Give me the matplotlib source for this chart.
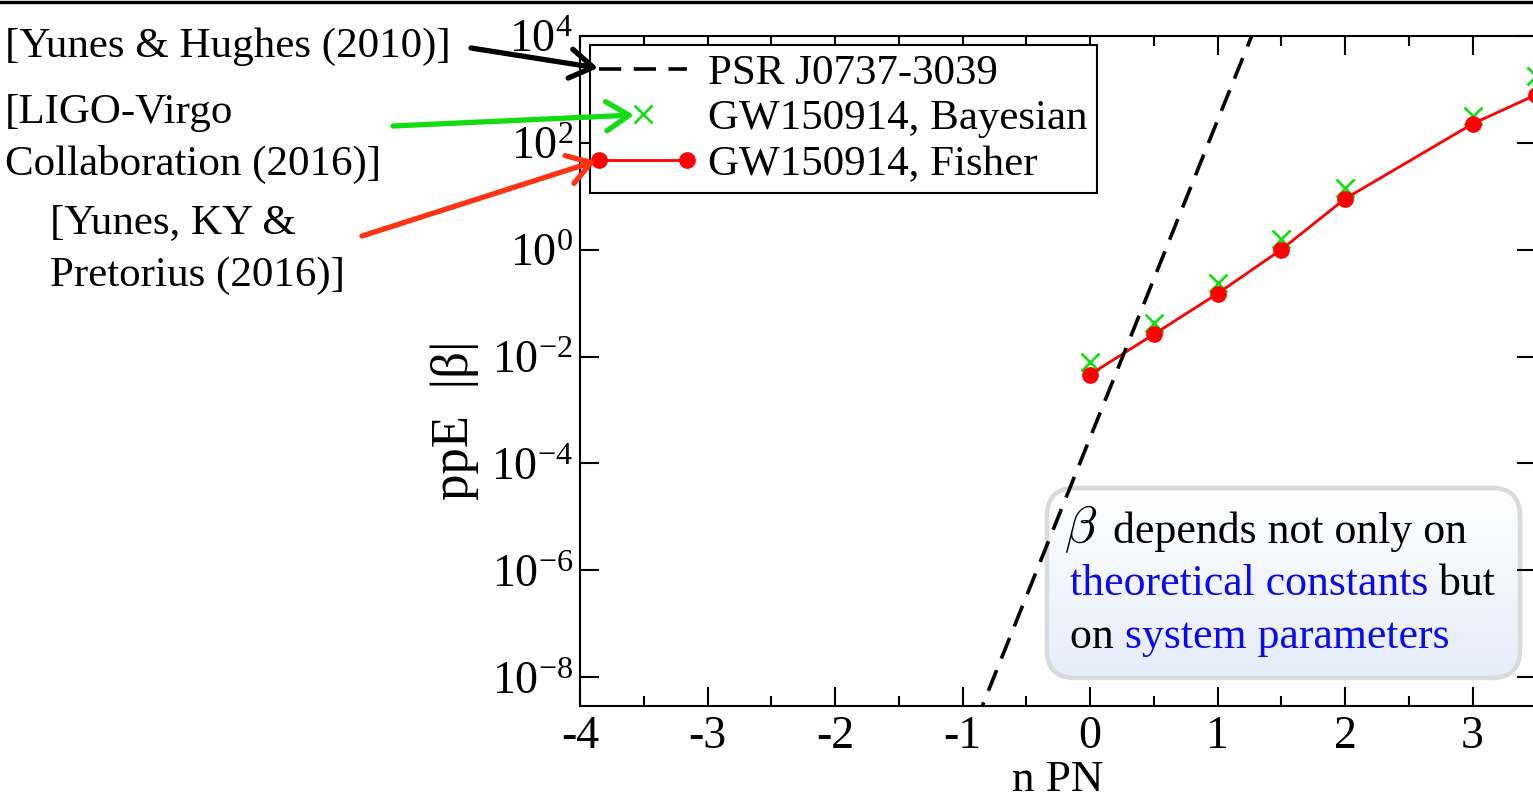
import numpy as np
import matplotlib
matplotlib.use('Agg')
import matplotlib.pyplot as plt
from matplotlib.lines import Line2D
from matplotlib.patches import FancyBboxPatch
from matplotlib.legend_handler import HandlerLine2D
from matplotlib.ticker import NullLocator, MultipleLocator

plt.rcParams['font.family'] = ['Liberation Serif', 'DejaVu Serif']
plt.rcParams['mathtext.fontset'] = 'custom'
plt.rcParams['mathtext.rm'] = 'Liberation Serif'
plt.rcParams['mathtext.it'] = 'Liberation Serif:italic'
plt.rcParams['axes.unicode_minus'] = False
plt.rcParams['lines.scale_dashes'] = False

# ---------------- data ----------------
pn_orders = [0.0, 0.5, 1.0, 1.5, 2.0, 3.0, 3.5]
beta_fisher = [4.6e-3, 2.6e-2, 0.15, 1.0, 8.9, 224.0, 790.0]
beta_bayes = [7.9e-3, 4.3e-2, 0.24, 1.58, 14.2, 311.0, 1790.0]
psr_n = [-1.0, 0.0, 1.0, 1.5]
psr_beta = [3.5e-10, 3.0e-4, 2.6e2, 2.3e5]
x_ticks = [-4, -3, -2, -1, 0, 1, 2, 3]
y_tick_exponents = [-8, -6, -4, -2, 0, 2, 4]
legend_labels = ['PSR J0737-3039', 'GW150914, Bayesian', 'GW150914, Fisher']
ref_labels = [['[Yunes & Hughes (2010)]'],
              ['[LIGO-Virgo', 'Collaboration (2016)]'],
              ['[Yunes, KY &', 'Pretorius (2016)]']]

W, H = 1533, 802
fig = plt.figure(figsize=(W / 100, H / 100), dpi=100)
fig.patch.set_facecolor('white')

GREEN = '#11dd11'
RED = '#ff0000'
ORANGE = '#ff3311'
BLUE = '#0a0af0'

# ---------------- background overlay (text box) ----------------
ax_box = fig.add_axes([0, 0, 1, 1], zorder=0)
ax_box.set_xlim(0, W)
ax_box.set_ylim(H, 0)
ax_box.axis('off')

# ---------------- main axes ----------------
ax = fig.add_axes([580 / W, (H - 705.7) / H, 956.25 / W, 670 / H], zorder=1)
ax.patch.set_facecolor('none')
ax.set_yscale('log')
ax.set_xlim(-4, 3.5)
ax.set_ylim(10 ** -8.53, 1e4)

h_psr, = ax.plot(psr_n, psr_beta, color='k', lw=2.6, dashes=(16, 9), zorder=4)
h_bayes, = ax.plot(pn_orders, beta_bayes, ls='none', marker='x', ms=12.5,
                   mew=1.9, color=GREEN, zorder=2)
h_fisher, = ax.plot(pn_orders, beta_fisher, color=RED, lw=2, marker='o',
                    ms=11, zorder=3)

ax.set_xticks(x_ticks)
ax.set_xticklabels([str(v) for v in x_ticks])
ax.xaxis.set_minor_locator(MultipleLocator(0.5))
ax.set_yticks([10.0 ** e for e in y_tick_exponents])
ax.set_yticklabels([r'$\mathregular{10^{%d}}$' % e for e in y_tick_exponents])
ax.yaxis.set_minor_locator(NullLocator())
ax.tick_params(which='both', direction='in', top=True, right=True, width=1.5)
ax.tick_params(which='major', length=13.5)
ax.tick_params(which='minor', length=7)
ax.tick_params(axis='x', pad=7, labelsize=33)
ax.tick_params(axis='y', pad=5, labelsize=33)
for sp in ax.spines.values():
    sp.set_linewidth(1.5)

ax.set_xlabel('n PN', fontsize=32.5)
ax.xaxis.set_label_coords(0.5, (705.7 - 760.0) / 670)
ax.set_ylabel('ppE  |β|', fontsize=38)
ax.yaxis.set_label_coords(-0.106, 0.426)

leg = ax.legend([h_psr, h_bayes, h_fisher], legend_labels, loc='upper left',
                bbox_to_anchor=(0.0105, 0.986), borderaxespad=0, fontsize=31,
                handlelength=2.05, handletextpad=0.5, labelspacing=0.15,
                borderpad=0.2, fancybox=False, edgecolor='k', framealpha=1,
                handler_map={h_fisher: HandlerLine2D(numpoints=2, marker_pad=0),
                             h_bayes: HandlerLine2D(numpoints=1),
                             h_psr: HandlerLine2D(numpoints=1)})
leg.get_frame().set_linewidth(1.5)

# ---------------- text box with gradient ----------------
bx0, by0, bx1, by1 = 1047, 488, 1520, 678
box = FancyBboxPatch((bx0, by0), bx1 - bx0, by1 - by0,
                     boxstyle='round,pad=0,rounding_size=28',
                     facecolor='none', edgecolor='#dadada', lw=3.2, zorder=3)
ax_box.add_patch(box)
top_c = np.array([1.0, 1.0, 1.0])
bot_c = np.array([0.90, 0.93, 0.98])
frac = np.linspace(0, 1, 200)[:, None, None]
grad = top_c[None, None, :] * (1 - frac) + bot_c[None, None, :] * frac
im = ax_box.imshow(grad, extent=(bx0, bx1, by1, by0), aspect='auto',
                   zorder=2, interpolation='bilinear')
im.set_clip_path(box)
ax_box.set_xlim(0, W)
ax_box.set_ylim(H, 0)

renderer = fig.canvas.get_renderer()


def text_width(axis, s, **kw):
    t1 = axis.text(0, 0, s + '|', **kw)
    t2 = axis.text(0, 0, '|', **kw)
    w = t1.get_window_extent(renderer).width - t2.get_window_extent(renderer).width
    t1.remove()
    t2.remove()
    return w


def colored_line(axis, x, y, pieces, fs):
    prefix = ''
    for s, c in pieces:
        xo = x + (text_width(axis, prefix, fontsize=fs) if prefix else 0)
        axis.text(xo, y, s, color=c, fontsize=fs, ha='left', va='baseline',
                  zorder=4)
        prefix += s


FS_BOX = 31.6
ax_box.text(1064, 543, r'$\beta$', math_fontfamily='cm', fontsize=38,
            ha='left', va='baseline', zorder=4)
colored_line(ax_box, 1113, 543, [('depends not only on', 'k')], FS_BOX)
colored_line(ax_box, 1070, 595, [('theoretical constants', BLUE), (' but', 'k')], FS_BOX)
colored_line(ax_box, 1070, 648, [('on ', 'k'), ('system parameters', BLUE)], FS_BOX)

# ---------------- foreground overlay (references and arrows) ----------------
ax_over = fig.add_axes([0, 0, 1, 1], zorder=2)
ax_over.set_xlim(0, W)
ax_over.set_ylim(H, 0)
ax_over.axis('off')

FS_REF = 31
ref_pos = [(5, [57]), (5, [123, 175]), (50, [233, 286])]
for lines, (x0, ys) in zip(ref_labels, ref_pos):
    for s, y in zip(lines, ys):
        ax_over.text(x0, y, s, fontsize=FS_REF, ha='left', va='baseline')

arrows = [((471, 48), (598, 68), 'k'),
          ((393, 126), (634, 115), GREEN),
          ((362, 236), (596, 161), ORANGE)]
for tail, head, c in arrows:
    ax_over.annotate('', xy=head, xytext=tail,
                     arrowprops=dict(arrowstyle='->,head_length=0.55,head_width=0.35',
                                     lw=3.8, color=c, mutation_scale=30,
                                     shrinkA=0, shrinkB=0))

ax_over.add_line(Line2D([0, W], [1.5, 1.5], color='k', lw=2.4))

fig.savefig('out.png', dpi=100)
